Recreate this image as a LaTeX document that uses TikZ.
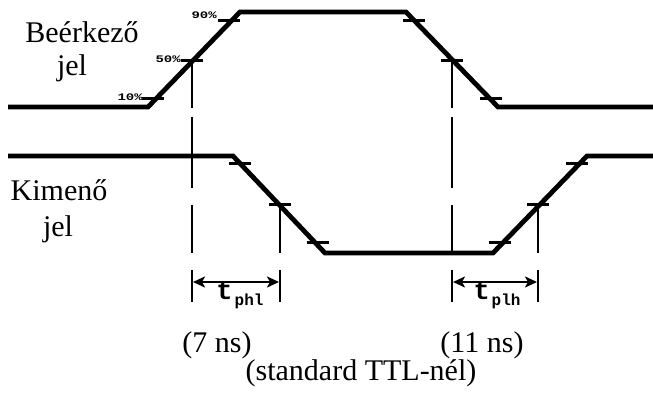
\documentclass[tikz,border=0pt]{standalone}
\usepackage{fontspec}
\setmainfont{Liberation Serif}
\setmonofont{Liberation Mono}
\usetikzlibrary{arrows.meta}

\begin{document}
\begin{tikzpicture}[x=1pt,y=-1pt,
  wave/.style={line width=4.8pt,line join=miter},
  tck/.style={line width=3pt},
  guide/.style={line width=1.4pt},
  dimar/.style={{Stealth[length=12pt,width=11pt,inset=3pt]}-{Stealth[length=12pt,width=11pt,inset=3pt]},line width=2.8pt},
  lab/.style={font=\fontsize{30}{34}\selectfont,inner sep=0pt},
  pct/.style={font=\ttfamily\bfseries\fontsize{10}{10}\selectfont,inner sep=0pt,anchor=east},
  tp/.style={font=\ttfamily\bfseries\fontsize{27}{27}\selectfont,inner sep=0pt}]
\useasboundingbox (0,0) rectangle (653,403);

% ---------- input signal ----------
\draw[wave] (8,107) -- (148,107) -- (240,12) -- (406,12) -- (498,107) -- (653,107);
\foreach \p in {(153,99),(192,61),(229,21),(414,21),(452,61),(491,99)}
  \draw[tck] \p ++(-11,0) -- ++(22,0);
\node[pct] (p10) at (143,97) {\scalebox{1.4}[1]{10\%}};
\node[pct] (p50) at (181,59) {\scalebox{1.4}[1]{50\%}};
\node[pct] (p90) at (217,15) {\scalebox{1.4}[1]{90\%}};
\node[lab] (in1) at (82,32) {Beérkező};
\node[lab] (in2) at (72,68) {jel};

% ---------- output signal ----------
\draw[wave] (8,156) -- (233,156) -- (325,253) -- (493,253) -- (587,156) -- (653,156);
\foreach \p in {(240,164),(280,205),(318,243),(500,243),(538,205),(577,164)}
  \draw[tck] \p ++(-11,0) -- ++(22,0);
\node[lab] (out1) at (59,190) {Kimenő};
\node[lab] (out2) at (58,229) {jel};

% ---------- 50% guides ----------
\foreach \x in {192,452} {
  \draw[guide] (\x,61) -- (\x,108);
  \draw[guide] (\x,117) -- (\x,188);
  \draw[guide] (\x,205) -- (\x,253);
  \draw[guide] (\x,270) -- (\x,302);
}
\foreach \x in {280,538} {
  \draw[guide] (\x,205) -- (\x,253);
  \draw[guide] (\x,270) -- (\x,302);
}

% ---------- delays ----------
\coordinate (hl1) at (193,282);
\coordinate (hl2) at (279,282);
\coordinate (lh1) at (453,282);
\coordinate (lh2) at (537,282);
\draw[dimar] (hl1) -- (hl2);
\draw[dimar] (lh1) -- (lh2);
\node[tp] (tphl) at (240,295) {t\hspace{2pt}\raisebox{-6pt}{\fontsize{16}{16}\selectfont phl}};
\node[tp] (tplh) at (497,295) {t\hspace{2pt}\raisebox{-6pt}{\fontsize{16}{16}\selectfont plh}};

% ---------- values ----------
\node[lab] (d1) at (217,345) {(7 ns)};
\node[lab] (d2) at (482,345) {(11 ns)};
\node[lab] (ttl) at (361,373) {(standard TTL-nél)};
\end{tikzpicture}
\end{document}
